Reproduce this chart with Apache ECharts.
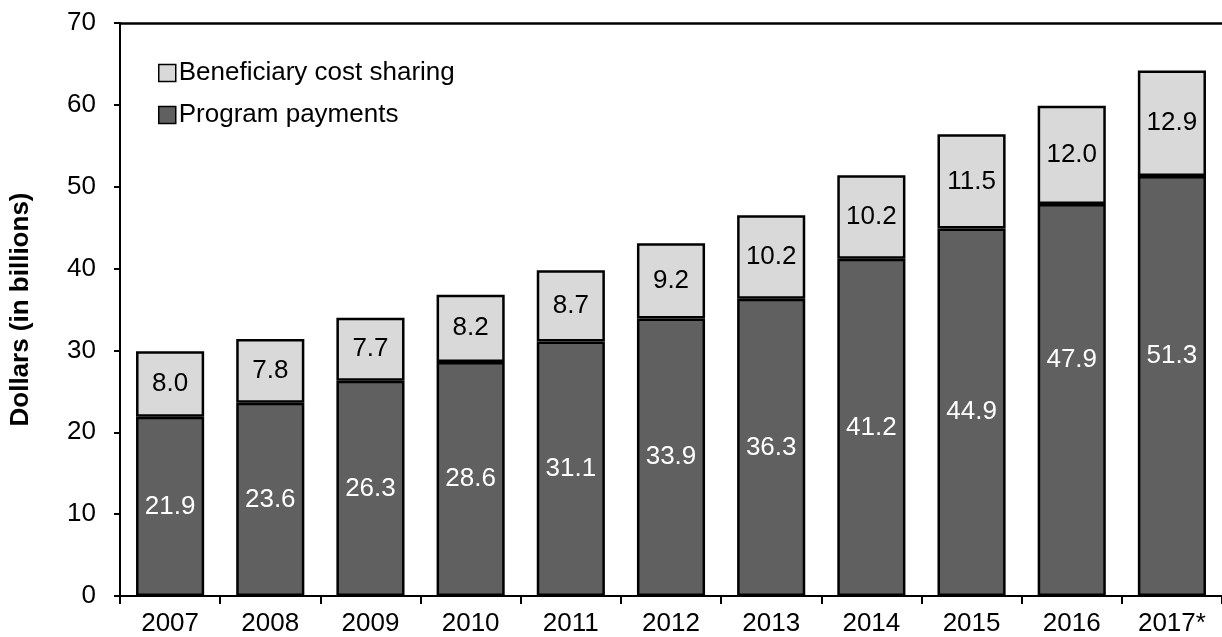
<!DOCTYPE html>
<html>
<head>
<meta charset="utf-8">
<script src="https://cdn.jsdelivr.net/npm/echarts@6/dist/echarts.min.js"></script>
<style>
  html, body { margin: 0; padding: 0; background: #ffffff; }
  #chart { width: 1222px; height: 637px; }
</style>
</head>
<body>
<div id="chart"></div>
<script>
// Medicare Part D spending by year, split into program payments and cost sharing
const years = ['2007', '2008', '2009', '2010', '2011', '2012', '2013', '2014', '2015', '2016', '2017*'];
const programPayments = [21.9, 23.6, 26.3, 28.6, 31.1, 33.9, 36.3, 41.2, 44.9, 47.9, 51.3];
const costSharing = [8.0, 7.8, 7.7, 8.2, 8.7, 9.2, 10.2, 10.2, 11.5, 12.0, 12.9];
const yTicks = [0, 10, 20, 30, 40, 50, 60, 70];

// the two tallest payment labels sit a little higher in their bars
const paymentLabelNudge = { '2016': -40, '2017*': -30 };

const FONT = '"Liberation Sans", Arial, sans-serif';
const chart = echarts.init(document.getElementById('chart'));

const paymentData = programPayments.map((v, i) => {
  const nudge = paymentLabelNudge[years[i]];
  return nudge ? { value: v, label: { offset: [0, nudge] } } : v;
});

chart.setOption({
  backgroundColor: '#ffffff',
  animation: false,
  textStyle: { fontFamily: FONT },
  grid: { left: 119, right: 0, top: 23, bottom: 40 },
  legend: {
    orient: 'vertical',
    left: 158,
    top: 60,
    padding: 0,
    itemGap: 16,
    itemWidth: 17,
    itemHeight: 17,
    icon: 'rect',
    textStyle: { fontFamily: FONT, fontSize: 26, color: '#000000', padding: [0, 0, 0, -2] },
    data: [
      { name: 'Beneficiary cost sharing', itemStyle: { color: '#d9d9d9', borderColor: '#000000', borderWidth: 1.5 } },
      { name: 'Program payments', itemStyle: { color: '#606060', borderColor: '#000000', borderWidth: 1.5 } }
    ]
  },
  xAxis: {
    type: 'category',
    data: years,
    axisLine: { lineStyle: { color: '#000000', width: 2 } },
    axisTick: { show: true, length: 8, alignWithLabel: false, lineStyle: { color: '#000000', width: 2 } },
    axisLabel: { color: '#000000', fontSize: 26, fontFamily: FONT, margin: 15 }
  },
  yAxis: {
    type: 'value',
    min: yTicks[0],
    max: yTicks[yTicks.length - 1],
    interval: 10,
    name: 'Dollars (in billions)',
    nameLocation: 'middle',
    nameGap: 86,
    nameTextStyle: { fontFamily: FONT, fontSize: 26, fontWeight: 'bold', color: '#000000' },
    axisLine: { show: true, lineStyle: { color: '#000000', width: 2 } },
    axisTick: { show: true, inside: false, length: 6, lineStyle: { color: '#000000', width: 2 } },
    axisLabel: { color: '#000000', fontSize: 26, fontFamily: FONT, margin: 24 },
    splitLine: { show: false }
  },
  series: [
    {
      name: 'Program payments',
      type: 'bar',
      stack: 'total',
      barCategoryGap: '32%',
      data: paymentData,
      itemStyle: { color: '#606060', borderColor: '#000000', borderWidth: 2.5 },
      label: {
        show: true,
        position: 'inside',
        color: '#ffffff',
        fontSize: 26,
        fontFamily: FONT,
        formatter: p => Number(p.value).toFixed(1)
      },
      markLine: {
        silent: true,
        symbol: 'none',
        label: { show: false },
        lineStyle: { color: '#000000', width: 2.5, type: 'solid' },
        data: [{ yAxis: yTicks[yTicks.length - 1] }]
      }
    },
    {
      name: 'Beneficiary cost sharing',
      type: 'bar',
      stack: 'total',
      data: costSharing,
      itemStyle: { color: '#d9d9d9', borderColor: '#000000', borderWidth: 2.5 },
      label: {
        show: true,
        position: 'inside',
        color: '#000000',
        fontSize: 26,
        fontFamily: FONT,
        formatter: p => Number(p.value).toFixed(1)
      }
    }
  ]
});
</script>
</body>
</html>
